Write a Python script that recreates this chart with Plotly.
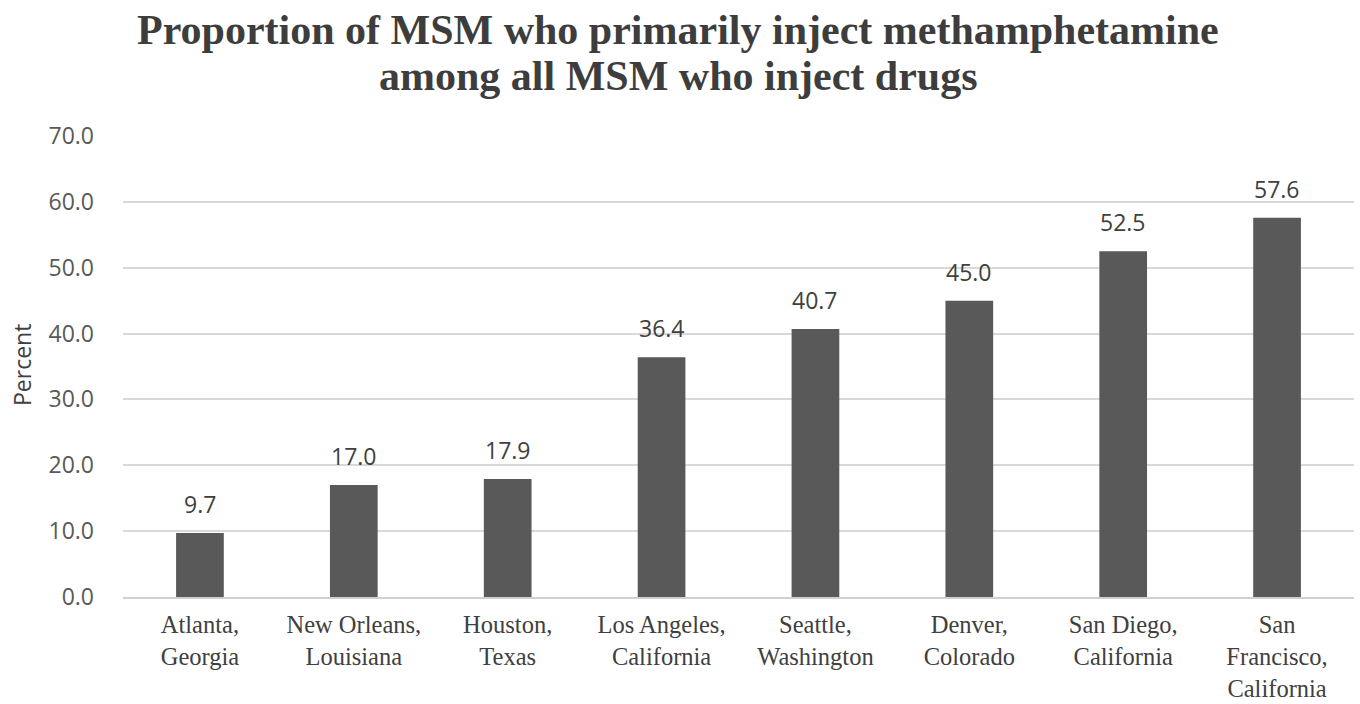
import plotly.graph_objects as go

cities = ["Atlanta,<br>Georgia", "New Orleans,<br>Louisiana", "Houston,<br>Texas",
          "Los Angeles,<br>California", "Seattle,<br>Washington", "Denver,<br>Colorado",
          "San Diego,<br>California", "San<br>Francisco,<br>California"]
percent = [9.7, 17.0, 17.9, 36.4, 40.7, 45.0, 52.5, 57.6]
y_ticks = [0, 10, 20, 30, 40, 50, 60, 70]
title_lines = ["Proportion of MSM who primarily inject methamphetamine",
               "among all MSM who inject drugs"]

W, H = 1360, 704
ML, MR, MT, MB = 123, 6, 136, 107
PW, PH = W - ML - MR, H - MT - MB

serif = "Liberation Serif, Times New Roman, serif"
sans = "Open Sans, sans-serif"

fig = go.Figure(go.Bar(
    x=cities, y=percent,
    marker=dict(color="#595959", line=dict(width=0)),
    cliponaxis=False,
))

for c, v in zip(cities, percent):
    fig.add_annotation(x=c, y=v, text=f"{v:.1f}", showarrow=False,
                       yanchor="bottom", yshift=11,
                       font=dict(family=sans, size=23, color="#404040"))

for line, ypx in zip(title_lines, [30, 76]):
    fig.add_annotation(xref="paper", yref="paper",
                       x=(W / 2 - 2 - ML) / PW, y=(H - MB - ypx) / PH,
                       xanchor="center", yanchor="middle",
                       text=f"<b>{line}</b>", showarrow=False,
                       font=dict(family=serif, size=42, color="#3d3d3d"))

fig.add_annotation(xref="paper", yref="paper",
                   x=(22 - ML) / PW, y=(H - MB - 365) / PH,
                   text="Percent", textangle=-90, showarrow=False,
                   xanchor="center", yanchor="middle",
                   font=dict(family=sans, size=23, color="#404040"))

fig.update_layout(
    width=W, height=H,
    margin=dict(l=ML, r=MR, t=MT, b=MB, autoexpand=False),
    paper_bgcolor="white", plot_bgcolor="white",
    bargap=0.69,
    showlegend=False,
    xaxis=dict(
        tickfont=dict(family=serif, size=24.5, color="#404040"),
        showline=True, linecolor="#d0d0d0", linewidth=2,
        ticks="", showgrid=False, ticklabelstandoff=5, automargin=False,
    ),
    yaxis=dict(
        range=[0, 70], tickvals=y_ticks,
        ticktext=[f"{v:.1f}" for v in y_ticks],
        tickfont=dict(family=sans, size=23, color="#595959"),
        showgrid=True, gridcolor="#d9d9d9", gridwidth=2,
        zeroline=False, ticks="", ticklabelstandoff=28, automargin=False,
    ),
)

fig.write_html("out.html")
